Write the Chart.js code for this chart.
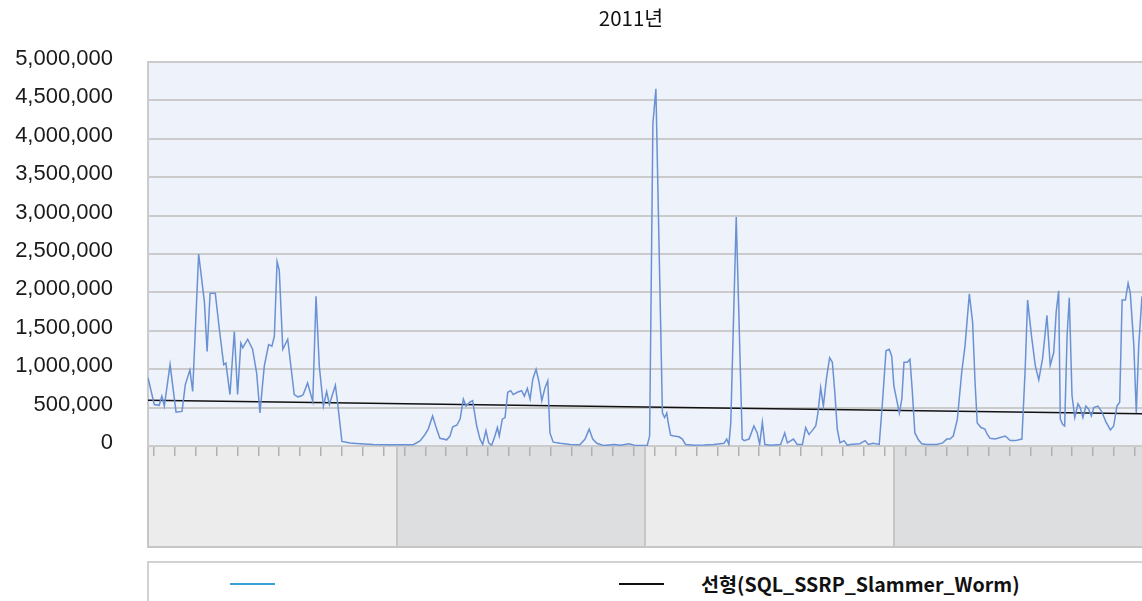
<!DOCTYPE html>
<html>
<head>
<meta charset="utf-8">
<script src="https://cdn.jsdelivr.net/npm/chart.js@4.4.1/dist/chart.umd.min.js"></script>
<style>
  html, body { margin: 0; padding: 0; background: #ffffff; overflow: hidden; }
  #wrap { position: absolute; left: 0; top: 0; width: 1262px; height: 601px; }
  #title { position: absolute; left: 0; top: 5px; width: 1262px; text-align: center;
           font-family: "Noto Sans CJK KR", "Noto Sans", sans-serif; font-size: 20.5px; line-height: 25px; color: #111; }
  #legend { position: absolute; left: 147px; top: 561px; width: 1100px; height: 60px;
            border: 2px solid #d2d2d2; background: #ffffff; box-sizing: border-box; }
  .lg-line { position: absolute; height: 2px; top: 20px; }
  .lg-text { position: absolute; top: 6px; font-family: "Noto Sans CJK KR", "Noto Sans", sans-serif;
             font-weight: bold; font-size: 19.6px; line-height: 30px; color: #111; white-space: nowrap; }
</style>
</head>
<body>
<div id="wrap"><canvas id="c"></canvas></div>
<div id="title"></div>
<div id="legend"></div>
<script>
// ---- data (x = day of year 2011, y = count) ----
const days = [
  0.0, 2.3, 4.1, 5.1, 6.0, 8.1, 10.3, 12.5, 13.7, 15.4, 16.4, 18.6, 20.7, 21.7, 22.8, 24.7, 26.2, 27.8, 28.6, 30.1,
  31.7, 32.9, 34.1, 34.8, 36.6, 38.4, 39.9, 41.1, 42.7, 44.3, 45.5, 46.4, 47.4, 48.2, 49.5, 51.3, 53.7, 55.0, 56.2, 57.0,
  58.6, 60.5, 61.7, 62.9, 64.4, 65.6, 66.6, 68.8, 69.7, 71.2,
  74.2, 77.8, 82.7, 87.7, 92.5, 97.4, 99.9, 101.7, 102.9, 104.5, 106.0, 107.2, 109.7, 110.9, 111.9, 113.4, 114.6, 115.8, 116.8, 118.2,
  119.2, 120.7, 121.9, 122.9, 124.1, 125.1, 126.2, 127.4, 128.3, 129.0, 130.1, 131.1, 132.1, 133.2, 134.1, 135.6, 137.2, 138.2, 139.3, 140.3,
  141.3, 142.5, 143.6, 144.6, 145.8, 146.8, 147.6, 148.8, 151.3, 155.0, 158.6, 160.5, 162.0, 163.3, 164.8,
  167.4, 171.1, 173.6, 176.6, 179.1, 183.3, 184.2, 185.4, 186.5, 188.9, 189.7, 190.5, 190.9, 191.9, 193.1, 195.0, 196.2, 197.4, 200.5, 204.2,
  207.8, 211.5, 212.5, 213.3, 214.0, 216.0, 218.2, 218.9, 220.7, 222.5, 223.7, 224.6, 225.6, 226.5, 228.7, 232.3, 233.8, 234.8, 237.0, 238.4,
  240.3, 241.5, 242.7, 243.9, 245.2, 246.0, 247.0, 248.0, 249.1, 250.3, 251.3, 252.2, 253.1, 254.1, 255.6, 256.8,
  257.8, 261.4, 263.3, 264.5, 266.3, 268.5, 269.6, 271.0, 272.2, 273.1, 273.9, 275.9, 276.8, 277.6, 278.8, 279.8, 280.6, 281.6, 282.9, 284.1,
  285.9, 289.6, 291.8, 293.3, 294.5, 295.7, 297.2, 298.8, 300.0, 301.6, 302.8, 303.7, 304.5, 305.9, 307.3, 308.2, 309.2,
  311.1, 314.8, 316.6, 318.5, 320.9, 322.1, 323.0, 324.4, 325.8, 327.1, 328.5, 330.1, 331.3, 332.6, 333.5, 334.4, 335.0, 335.9, 336.6, 337.5,
  338.3, 339.3, 340.3, 341.5, 342.3, 343.3, 344.4, 345.4, 346.4, 347.3, 348.8, 350.3, 351.8, 353.4, 354.6, 355.8, 356.8, 357.7, 358.9, 359.9,
  360.7, 362.0, 362.9, 363.8, 365.0
];
const slammerValues = [
  890000, 540000, 530000, 650000, 520000, 1060000, 440000, 450000, 800000, 990000, 710000, 2500000, 1880000, 1230000, 1990000, 1990000, 1520000, 1060000, 1080000, 670000,
  1490000, 670000, 1340000, 1280000, 1390000, 1260000, 950000, 430000, 1040000, 1320000, 1300000, 1430000, 2400000, 2290000, 1260000, 1390000, 670000, 640000, 650000, 670000,
  820000, 580000, 1950000, 1040000, 520000, 710000, 540000, 790000, 540000, 60000,
  40000, 30000, 20000, 17000, 17000, 17000, 65000, 150000, 220000, 390000, 220000, 100000, 80000, 130000, 250000, 270000, 350000, 610000, 520000, 570000,
  590000, 260000, 90000, 20000, 200000, 40000, 10000, 130000, 240000, 130000, 350000, 370000, 700000, 720000, 670000, 700000, 720000, 650000, 750000, 610000,
  870000, 1000000, 830000, 590000, 760000, 850000, 170000, 50000, 35000, 20000, 17000, 90000, 220000, 90000, 35000,
  5000, 20000, 10000, 30000, 5000, 5000, 130000, 4200000, 4650000, 430000, 370000, 430000, 330000, 140000, 130000, 120000, 90000, 20000, 10000, 13000,
  20000, 35000, 90000, 20000, 300000, 2980000, 90000, 70000, 90000, 260000, 170000, 20000, 310000, 20000, 10000, 20000, 170000, 40000, 90000, 20000,
  20000, 240000, 150000, 200000, 260000, 430000, 760000, 520000, 870000, 1150000, 1090000, 700000, 220000, 40000, 70000, 10000,
  20000, 30000, 70000, 20000, 35000, 20000, 520000, 1240000, 1260000, 1170000, 780000, 430000, 610000, 1090000, 1090000, 1130000, 740000, 170000, 80000, 30000,
  20000, 20000, 40000, 90000, 90000, 130000, 350000, 960000, 1300000, 1980000, 1610000, 830000, 300000, 240000, 220000, 150000, 100000,
  90000, 130000, 70000, 70000, 90000, 1000000, 1900000, 1440000, 1050000, 860000, 1140000, 1700000, 1050000, 1220000, 1750000, 2020000, 350000, 280000, 260000, 1440000,
  1930000, 660000, 370000, 550000, 500000, 370000, 520000, 480000, 390000, 500000, 520000, 440000, 310000, 210000, 260000, 520000, 570000, 1900000, 1900000, 2120000,
  1990000, 1310000, 430000, 1310000, 1950000
];
const trendDays = [0, 365];
const trendValues = [595000, 420000];
const chartTitle = '2011년';
const seriesNames = ['', '선형(SQL_SSRP_Slammer_Worm)'];
const quarterBounds = [0, 91.25, 182.5, 273.75, 365];
const yTicks = [0, 500000, 1000000, 1500000, 2000000, 2500000, 3000000, 3500000, 4000000, 4500000, 5000000];

// ---- layout / style constants ----
const TICK_START = 2.2, TICK_STEP = 7.663, TICK_COUNT = 48;
const lineColor = '#6a91d4';
const legendColors = ['#3aa0d8', '#111111'];

const bandPlugin = {
  id: 'band',
  beforeDraw(chart) {
    const { ctx, chartArea: a, scales: { x } } = chart;
    ctx.save();
    ctx.fillStyle = '#eef2fa';
    ctx.fillRect(a.left, a.top, a.right - a.left, a.bottom - a.top);
    for (let i = 0; i < quarterBounds.length - 1; i++) {
      const x0 = x.getPixelForValue(quarterBounds[i]);
      const x1 = x.getPixelForValue(quarterBounds[i + 1]);
      ctx.fillStyle = i % 2 === 0 ? '#ececec' : '#dddee0';
      ctx.fillRect(x0, a.bottom, x1 - x0, x.bottom - a.bottom);
    }
    ctx.strokeStyle = '#c6c6c6';
    ctx.lineWidth = 2;
    for (let i = 1; i < quarterBounds.length - 1; i++) {
      const px = Math.round(x.getPixelForValue(quarterBounds[i]));
      ctx.beginPath(); ctx.moveTo(px, a.bottom); ctx.lineTo(px, x.bottom); ctx.stroke();
    }
    ctx.beginPath();
    ctx.moveTo(a.left, a.bottom); ctx.lineTo(a.left, x.bottom - 1); ctx.lineTo(x.right, x.bottom - 1);
    ctx.stroke();
    ctx.restore();
  }
};

const chart = new Chart(document.getElementById('c'), {
  type: 'line',
  data: {
    datasets: [
      {
        label: seriesNames[0],
        data: days.map((d, i) => ({ x: d, y: slammerValues[i] })),
        borderColor: lineColor, borderWidth: 1.5, pointRadius: 0, tension: 0, fill: false
      },
      {
        label: seriesNames[1],
        data: trendDays.map((d, i) => ({ x: d, y: trendValues[i] })),
        borderColor: '#111111', borderWidth: 1.6, pointRadius: 0, tension: 0, fill: false
      }
    ]
  },
  options: {
    responsive: true,
    maintainAspectRatio: false,
    animation: false,
    layout: { padding: { top: 62, right: 120, bottom: 53, left: 0 } },
    plugins: {
      legend: { display: false },
      tooltip: { enabled: false },
      title: { display: false }
    },
    scales: {
      x: {
        type: 'linear', min: 0, max: 365,
        afterBuildTicks(s) {
          const t = [];
          for (let k = 0; k < TICK_COUNT; k++) t.push({ value: TICK_START + k * TICK_STEP });
          s.ticks = t;
        },
        afterFit(s) { s.height = 102; },
        ticks: { display: false },
        grid: { drawOnChartArea: false, drawTicks: true, tickLength: 10, color: '#b0b0b0', lineWidth: 1.5 },
        border: { display: false }
      },
      y: {
        min: 0, max: 5000000,
        afterBuildTicks(s) { s.ticks = yTicks.map(v => ({ value: v })); },
        afterFit(s) { s.width = 148; },
        ticks: {
          padding: 35, color: '#1a1a1a', labelOffset: -3,
          font: { family: '"Liberation Sans", Arial, sans-serif', size: 22 },
          callback: v => Number(v).toLocaleString('en-US')
        },
        grid: { color: '#cbcbcb', lineWidth: 2, drawTicks: false },
        border: { display: true, color: '#cbcbcb', width: 2 }
      }
    }
  },
  plugins: [bandPlugin]
});

// title (the original chart is wider than the window, so its centre sits right of the window centre)
document.getElementById('title').textContent = chartTitle;

// HTML legend built from the datasets
const legendPos = [{ line: 81, text: null }, { line: 470, text: 552 }];
const lg = document.getElementById('legend');
chart.data.datasets.forEach((ds, i) => {
  const ln = document.createElement('div');
  ln.className = 'lg-line';
  ln.style.left = legendPos[i].line + 'px';
  ln.style.width = '45px';
  ln.style.background = legendColors[i];
  lg.appendChild(ln);
  if (ds.label) {
    const tx = document.createElement('div');
    tx.className = 'lg-text';
    tx.style.left = legendPos[i].text + 'px';
    tx.textContent = ds.label;
    lg.appendChild(tx);
  }
});
</script>
</body>
</html>
